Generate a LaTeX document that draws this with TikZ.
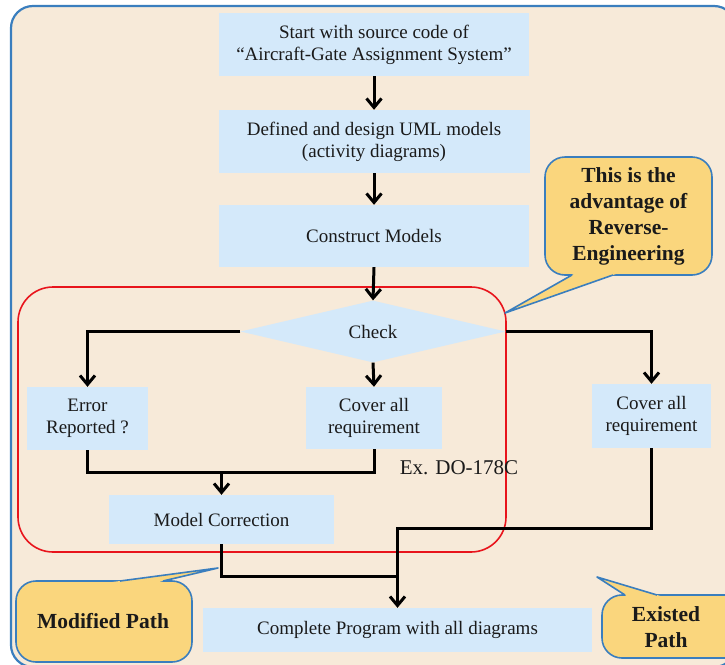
\documentclass[tikz,border=0pt]{standalone}
\usepackage{fontspec}
\setmainfont{Liberation Serif}
\usetikzlibrary{shapes.geometric,arrows.meta,calc}

\definecolor{paper}{HTML}{F7EAD9}
\definecolor{boxblue}{HTML}{D4E9FA}
\definecolor{frameblue}{HTML}{3A7EBE}
\definecolor{noteyellow}{HTML}{FAD67D}
\definecolor{loopred}{HTML}{E8141C}
\definecolor{ink}{HTML}{1A1A1A}

\tikzset{
  stepbox/.style={fill=boxblue, draw=none, inner sep=0pt, align=center,
    text=ink, font=\fontsize{19}{22}\selectfont},
  decision/.style={diamond, fill=boxblue, draw=none, inner sep=0pt,
    minimum width=265pt, minimum height=57pt, text=ink,
    font=\fontsize{19}{22}\selectfont},
  flow/.style={line width=3pt, draw=black},
  flowarrow/.style={flow, -{Straight Barb[length=9pt,width=15pt]}},
  notebox/.style={fill=noteyellow, draw=frameblue, line width=1.6pt, rounded corners=20pt},
  notetail/.style={draw=frameblue, line width=1.6pt, line join=round},
  notetext/.style={align=center, text=ink, font=\fontsize{21.5}{26}\selectfont\bfseries},
}

\begin{document}
\begin{tikzpicture}[x=1pt, y=-1pt]
\useasboundingbox (0,0) rectangle (725,664);
\clip (0,0) rectangle (725,664);

% outer frame
\draw[fill=paper, draw=frameblue, line width=2.2pt, rounded corners=22pt]
  (11,6) rectangle (736,667);

% review loop
\draw[loopred, line width=1.6pt, rounded corners=35pt] (18,287) rectangle (506,552);

% process steps
\node[stepbox, minimum width=310pt, minimum height=63pt] (start) at (374,44.5)
  {Start with source code of\\“Aircraft-Gate Assignment System”};
\node[stepbox, minimum width=311pt, minimum height=63pt] (uml) at (374,141.5)
  {Defined and design UML models\\(activity diagrams)};
\node[stepbox, minimum width=310pt, minimum height=62pt] (construct) at (374,236)
  {Construct Models};
\node[decision] (check) at (373,331.5) {Check};
\node[stepbox, minimum width=121pt, minimum height=63pt] (err) at (87.5,418.5)
  {Error\\Reported ?};
\node[stepbox, minimum width=136pt, minimum height=62pt] (cov1) at (374,418)
  {Cover all\\requirement};
\node[stepbox, minimum width=119pt, minimum height=64pt] (cov2) at (651.5,416)
  {Cover all\\requirement};
\node[stepbox, minimum width=225pt, minimum height=49pt] (modcorr) at (221.5,519.5)
  {Model Correction};
\node[stepbox, minimum width=389pt, minimum height=44pt] (complete) at (397.5,630)
  {Complete Program with all diagrams};

\node[text=ink, font=\fontsize{21}{24}\selectfont, inner sep=0pt] (std) at (459,468)
  {Ex. DO-178C};

% connectors
\coordinate (merge) at (221.5,472);
\coordinate (join) at (397.5,576);
\coordinate (bend) at (397.5,528);

\draw[flowarrow] (start.south) -- (uml.north);
\draw[flowarrow] (uml.south) -- (construct.north);
\draw[flowarrow] (construct.south) -- (check.north);
\draw[flowarrow] (check.south) -- (cov1.north);
\draw[flowarrow] (check.west) -| (err.north);
\draw[flowarrow] (check.east) -| (cov2.north);
\draw[flow] (err.south) |- (merge) -| (cov1.south);
\draw[flowarrow] (merge) -- (modcorr.north);
\draw[flow] (modcorr.south) |- (join);
\draw[flowarrow] (cov2.south) |- (bend) -- (complete.north);

% callout: advantage
\coordinate (tipA) at (505,313);
\coordinate (a1) at (572,275);
\coordinate (a2) at (613,275);
\fill[noteyellow] (tipA) -- (a1) -- (a2) -- cycle;
\draw[notebox] (545,157) rectangle (712,275);
\fill[noteyellow] (tipA) -- ($(tipA)!1.12!(a1)$) -- ($(tipA)!1.12!(a2)$) -- cycle;
\draw[notetail] (a1) -- (tipA) -- (a2);
\node[notetext] (adv) at (628.5,216)
  {This is the\\advantage of\\Reverse-\\Engineering};

% callout: modified path
\coordinate (tipM) at (218,568);
\coordinate (m1) at (120,581);
\coordinate (m2) at (163,581);
\fill[noteyellow] (tipM) -- (m1) -- (m2) -- cycle;
\draw[notebox] (16,581) rectangle (192,662);
\fill[noteyellow] (tipM) -- ($(tipM)!1.25!(m1)$) -- ($(tipM)!1.25!(m2)$) -- cycle;
\draw[notetail] (m1) -- (tipM) -- (m2);
\node[notetext] (modified) at (103,621) {Modified Path};

% callout: existed path
\coordinate (tipE) at (597,577);
\coordinate (e1) at (625,595);
\coordinate (e2) at (657,595);
\fill[noteyellow] (tipE) -- (e1) -- (e2) -- cycle;
\draw[notebox] (602,595) rectangle (745,658);
\fill[noteyellow] (tipE) -- ($(tipE)!1.2!(e1)$) -- ($(tipE)!1.2!(e2)$) -- cycle;
\draw[notetail] (e1) -- (tipE) -- (e2);
\node[notetext] (existed) at (666,627) {Existed\\Path};
\end{tikzpicture}
\end{document}
